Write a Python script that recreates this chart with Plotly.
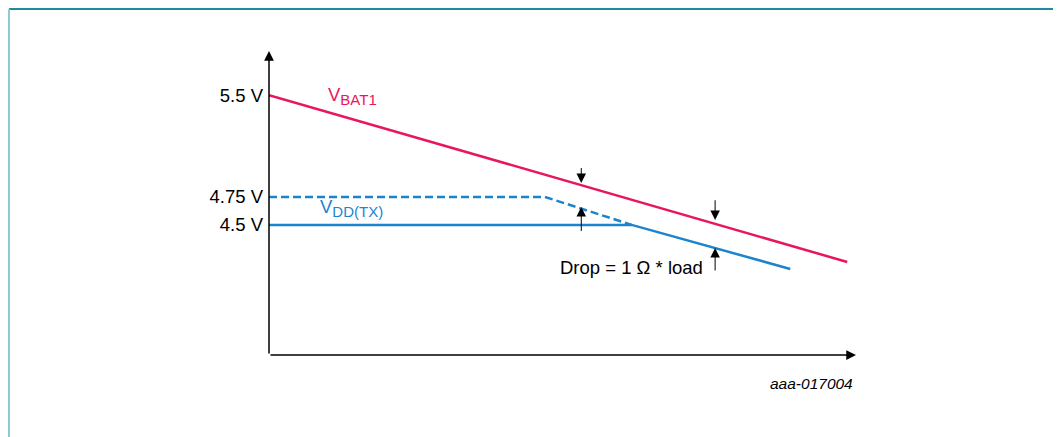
import plotly.graph_objects as go

# ---- data (schematic units: x = load 0..100, y = level 0..100) ----
vbat_x = [0, 98.5]
vbat_y = [85.5, 30.6]

vdd_nom_x = [0, 47.0, 61.8]
vdd_nom_y = [52.0, 52.0, 42.8]

vdd_x = [0, 61.8, 88.8]
vdd_y = [42.8, 42.8, 28.3]

tick_vals = [85.5, 52.0, 42.8]
tick_text = ["5.5 V", "4.75 V", "4.5 V"]

# drop arrows: (x, tip_y, tail_y)
drop_arrows = [
    (53.2, 56.6, 62.0),
    (53.2, 48.7, 40.3),
    (76.0, 44.4, 51.4),
    (76.0, 35.2, 27.3),
]

RED = "#E8175D"
BLUE = "#1C84CC"
OFF = 8  # page body margin
W, H = 1061 - OFF, 437 - OFF
PX0, PX1, PY0, PY1 = 269 - OFF, 856 - OFF, 51 - OFF, 355 - OFF  # plot area in figure px
L, R, T, B = PX0, W - PX1, PY0, H - PY1
FONT = "Liberation Sans, Arial, sans-serif"

fig = go.Figure()
fig.add_trace(go.Scatter(x=vbat_x, y=vbat_y, mode="lines",
                         line=dict(color=RED, width=2.5), hoverinfo="skip"))
fig.add_trace(go.Scatter(x=vdd_nom_x, y=vdd_nom_y, mode="lines",
                         line=dict(color=BLUE, width=2.5, dash="8px,4px"), hoverinfo="skip"))
fig.add_trace(go.Scatter(x=vdd_x, y=vdd_y, mode="lines",
                         line=dict(color=BLUE, width=2.5), hoverinfo="skip"))

ann = []
# axes with arrow heads
ann.append(dict(x=100, y=0, ax=0, ay=0, xref="x", yref="y", axref="x", ayref="y",
                showarrow=True, arrowhead=2, arrowsize=1.3, arrowwidth=1.5,
                arrowcolor="black", text=""))
ann.append(dict(x=0, y=100, ax=0, ay=0, xref="x", yref="y", axref="x", ayref="y",
                showarrow=True, arrowhead=2, arrowsize=1.3, arrowwidth=1.5,
                arrowcolor="black", text=""))
for (xa, tip, tail) in drop_arrows:
    ann.append(dict(x=xa, y=tip, ax=xa, ay=tail, xref="x", yref="y", axref="x", ayref="y",
                    showarrow=True, arrowhead=2, arrowsize=1.9, arrowwidth=1,
                    arrowcolor="black", text=""))

SUB = "<sub><span style='font-size:15px'>{}</span></sub>"
ann.append(dict(x=9.7, y=85.2, xref="x", yref="y", xanchor="left", yanchor="middle",
                text="V" + SUB.format("BAT1"), showarrow=False,
                font=dict(family=FONT, size=18.5, color=RED)))
ann.append(dict(x=8.3, y=48.4, xref="x", yref="y", xanchor="left", yanchor="middle",
                text="V" + SUB.format("DD(TX)"), showarrow=False,
                font=dict(family=FONT, size=18.5, color=BLUE)))
ann.append(dict(x=49.2, y=28.9, xref="x", yref="y", xanchor="left", yanchor="middle",
                text="Drop = 1 Ω * load", showarrow=False,
                font=dict(family=FONT, size=18.5, color="black")))


def px_to_paper_x(px):
    return (px - PX0) / (PX1 - PX0)


def px_to_paper_y(py):
    return (PY1 - py) / (PY1 - PY0)


ann.append(dict(x=px_to_paper_x(855 - OFF), y=px_to_paper_y(383 - OFF),
                xref="paper", yref="paper", xanchor="right", yanchor="middle",
                text="<i>aaa-017004</i>", showarrow=False,
                font=dict(family=FONT, size=15.5, color="black")))
fig.update_layout(annotations=ann)

# outer frame
shapes = [
    dict(type="line", xref="paper", yref="paper",
         x0=px_to_paper_x(1), x1=px_to_paper_x(1052),
         y0=px_to_paper_y(1), y1=px_to_paper_y(1),
         line=dict(color="#1E8C9C", width=2)),
    dict(type="line", xref="paper", yref="paper",
         x0=px_to_paper_x(1), x1=px_to_paper_x(1),
         y0=px_to_paper_y(1), y1=px_to_paper_y(H + 5),
         line=dict(color="#8FCAD3", width=2)),
    dict(type="line", xref="paper", yref="paper",
         x0=px_to_paper_x(1052), x1=px_to_paper_x(1052),
         y0=px_to_paper_y(1), y1=px_to_paper_y(H + 5),
         line=dict(color="#8FCAD3", width=2)),
]

fig.update_layout(
    width=W, height=H,
    margin=dict(l=L, r=R, t=T, b=B, pad=0),
    paper_bgcolor="white", plot_bgcolor="white",
    showlegend=False,
    shapes=shapes,
    xaxis=dict(range=[0, 100], showgrid=False, zeroline=False, showline=False,
               showticklabels=False, ticks="", fixedrange=True),
    yaxis=dict(range=[0, 100], showgrid=False, zeroline=False, showline=False,
               tickvals=tick_vals, ticktext=tick_text, ticks="",
               ticklabelstandoff=5,
               tickfont=dict(family=FONT, size=18.5, color="black"), fixedrange=True),
)

fig.write_html("out.html", config={"displayModeBar": False})
